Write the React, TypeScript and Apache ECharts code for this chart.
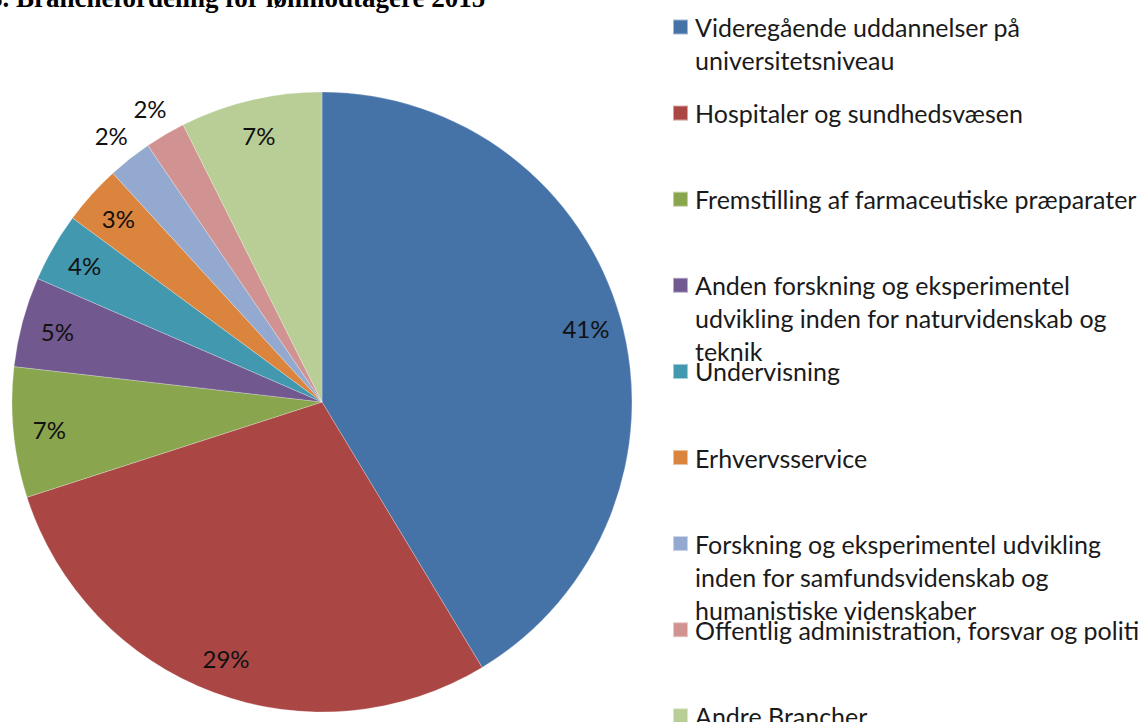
import React, { useEffect, useRef } from "react";
import * as echarts from "echarts";

const categories = [
  "Videregående uddannelser på universitetsniveau",
  "Hospitaler og sundhedsvæsen",
  "Fremstilling af farmaceutiske præparater",
  "Anden forskning og eksperimentel udvikling inden for naturvidenskab og teknik",
  "Undervisning",
  "Erhvervsservice",
  "Forskning og eksperimentel udvikling inden for samfundsvidenskab og humanistiske videnskaber",
  "Offentlig administration, forsvar og politi",
  "Andre Brancher",
];

const legendLabels = [
  "Videregående uddannelser på\nuniversitetsniveau",
  "Hospitaler og sundhedsvæsen",
  "Fremstilling af farmaceutiske præparater",
  "Anden forskning og eksperimentel\nudvikling inden for naturvidenskab og\nteknik",
  "Undervisning",
  "Erhvervsservice",
  "Forskning og eksperimentel udvikling\ninden for samfundsvidenskab og\nhumanistiske videnskaber",
  "Offentlig administration, forsvar og politi",
  "Andre Brancher",
];

const values = [41.4, 28.7, 6.8, 4.7, 3.6, 3.1, 2.3, 2.1, 7.4];

const colors = [
  "#4572A7",
  "#AA4643",
  "#89A54E",
  "#71588F",
  "#4198AF",
  "#DB843D",
  "#93A9CF",
  "#D19392",
  "#B9CD96",
];

const outsideLabels = [6, 7];

const titleText = "3. Branchefordeling for lønmodtagere 2015";

export default function App() {
  const ref = useRef<HTMLDivElement>(null);

  useEffect(() => {
    if (!ref.current) return;
    const chart = echarts.init(ref.current, null, { renderer: "svg" });
    const cx = 322;
    const cy = 402;
    const R = 310;
    const total = values.reduce((a, b) => a + b, 0);
    const mids: number[] = [];
    let acc = 0;
    values.forEach((v) => {
      mids.push(((acc + v / 2) / total) * Math.PI * 2);
      acc += v;
    });

    const L = 33;
    const iconFirst = 27;
    const step = 86.1;
    const legends = categories.map((name, i) => {
      const n = legendLabels[i].split("\n").length;
      const yc = iconFirst + step * i;
      return {
        orient: "vertical",
        left: 672,
        top: yc - ((2 * n - 1) * L) / 2,
        padding: 0,
        icon: "rect",
        itemWidth: 15,
        itemHeight: 15,
        selectedMode: false,
        data: [name],
        formatter: (nm: string) => {
          const lbl = legendLabels[categories.indexOf(nm)];
          const k = lbl.split("\n").length - 1;
          return "\n".repeat(k) + lbl;
        },
        textStyle: {
          fontFamily: "Lato",
          fontSize: 25,
          lineHeight: L,
          color: "#1a1a1a",
          padding: [0, 0, 0, 2],
        },
      };
    });

    chart.setOption({
      animation: false,
      color: colors,
      title: {
        text: titleText,
        left: -11,
        top: -16,
        padding: 0,
        textStyle: {
          fontFamily: "Liberation Serif",
          fontWeight: "bold",
          fontSize: 27,
          color: "#000",
        },
      },
      legend: legends,
      series: [
        {
          type: "pie",
          center: [cx, cy],
          radius: [0, R],
          startAngle: 90,
          clockwise: true,
          avoidLabelOverlap: false,
          itemStyle: { borderColor: "rgba(255,255,255,0.5)", borderWidth: 0.5 },
          label: {
            show: true,
            position: "inside",
            fontFamily: "Lato",
            fontSize: 24,
            color: "#111",
            formatter: (p: any) => Math.round(p.percent) + "%",
          },
          labelLine: { show: false },
          emphasis: { disabled: true },
          labelLayout: (p: any) => {
            const i = p.dataIndex;
            const r = outsideLabels.includes(i) ? 340 : 274;
            const a = mids[i];
            return { x: cx + r * Math.sin(a), y: cy - r * Math.cos(a) };
          },
          data: categories.map((name, i) => ({ name, value: values[i] })),
        },
      ],
    });
    return () => chart.dispose();
  }, []);

  return (
    <div
      ref={ref}
      style={{ position: "fixed", left: 0, top: 0, width: 1140, height: 722, background: "#fff" }}
    />
  );
}
